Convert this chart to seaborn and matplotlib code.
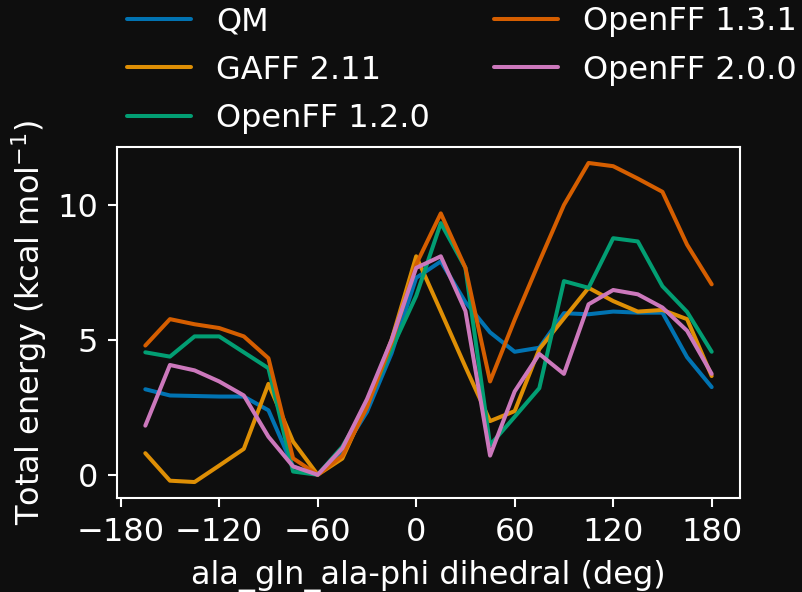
import numpy as np
import pandas as pd
import matplotlib
matplotlib.use("Agg")
import matplotlib.pyplot as plt
import seaborn as sns

# ------------------------------------------------------------
# Data
# ------------------------------------------------------------

angles = [-165, -150, -135, -120, -105, -90, -75, -60, -45, -30, -15, 0,
          15, 30, 45, 60, 75, 90, 105, 120, 135, 150, 165, 180]

qm = [3.17, 2.94, 2.92, 2.90, 2.90, 2.39, 0.30, 0.0, 0.86, 2.33, 4.5, 7.3,
      7.91, 6.4, 5.28, 4.56, 4.71, 5.99, 5.95, 6.05, 6.01, 6.01, 4.36, 3.25]

gaff_211 = [0.80, -0.22, -0.27, 0.34, 0.96, 3.37, 1.23, 0.0, 0.6, 2.6, 5.0, 8.1,
            6.06, 4.0, 1.99, 2.36, 4.66, 5.8, 6.93, 6.44, 6.05, 6.11, 5.77, 3.66]

openff_120 = [4.54, 4.38, 5.13, 5.13, 4.54, 3.95, 0.12, 0.0, 1.04, 2.6, 4.66, 6.63,
              9.33, 7.67, 1.10, 2.15, 3.21, 7.18, 6.93, 8.77, 8.65, 6.99, 6.04, 4.56]

openff_131 = [4.79, 5.77, 5.58, 5.44, 5.13, 4.32, 0.61, 0.0, 0.7, 2.5, 4.9, 7.8,
              9.69, 7.67, 3.46, 5.75, 7.9, 10.0, 11.56, 11.44, 10.98, 10.49, 8.53, 7.06]

openff_200 = [1.82, 4.07, 3.87, 3.46, 2.94, 1.41, 0.31, 0.0, 0.98, 2.8, 5.0, 7.67,
              8.1, 6.07, 0.71, 3.09, 4.48, 3.74, 6.32, 6.85, 6.69, 6.20, 5.34, 3.74]

methods = ["QM", "GAFF 2.11", "OpenFF 1.2.0", "OpenFF 1.3.1", "OpenFF 2.0.0"]
series = [qm, gaff_211, openff_120, openff_131, openff_200]

xticks = [-180, -120, -60, 0, 60, 120, 180]
yticks = [0, 5, 10]

# ------------------------------------------------------------
# Long-format table
# ------------------------------------------------------------

frames = []
for name, values in zip(methods, series):
    frames.append(pd.DataFrame({
        "angle": angles,
        "energy": values,
        "method": name
    }))
df = pd.concat(frames, ignore_index=True)

# ------------------------------------------------------------
# Style
# ------------------------------------------------------------

bg = "#0e0e0e"
fg = "white"
fs = 23

sns.set_style("ticks")
plt.rcParams.update({
    "font.family": ["DejaVu Sans"],
    "figure.facecolor": bg,
    "axes.facecolor": bg,
    "savefig.facecolor": bg,
    "axes.edgecolor": fg,
    "axes.labelcolor": fg,
    "text.color": fg,
    "xtick.color": fg,
    "ytick.color": fg,
    "axes.linewidth": 1.5,
    "xtick.major.width": 1.5,
    "ytick.major.width": 1.5,
    "xtick.major.size": 6.5,
    "ytick.major.size": 6.5,
    "xtick.major.pad": 7,
    "ytick.major.pad": 7,
})

fig = plt.figure(figsize=(8.03, 5.92), dpi=100)
ax = fig.add_axes([117 / 803, 1 - 498 / 592, 623 / 803, 351 / 592])

sns.lineplot(
    data=df,
    x="angle",
    y="energy",
    hue="method",
    palette="colorblind",
    linewidth=2.9,
    ax=ax
)

ax.set_xticks(xticks)
ax.set_yticks(yticks)
ax.tick_params(labelsize=fs)

ax.set_xlabel("ala_gln_ala-phi dihedral (deg)", fontsize=fs, labelpad=9)
ax.set_ylabel("Total energy (kcal mol$^{-1}$)", fontsize=fs, labelpad=6)

leg = ax.legend(
    ncol=2,
    frameon=False,
    loc="lower left",
    bbox_to_anchor=(-0.005, 1.0),
    borderaxespad=0,
    labelspacing=0.55,
    fontsize=fs
)
for line in leg.get_lines():
    line.set_linewidth(2.9)

fig.savefig("out.png", dpi=100, facecolor=bg)
